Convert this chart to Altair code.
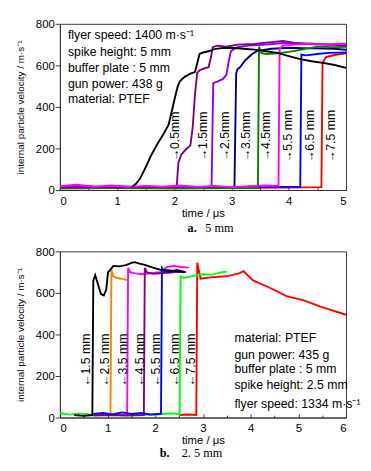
import altair as alt
import pandas as pd

# ---------------- Panel a (spike height 5 mm) ----------------
a_series = ["0.5", "1.5", "2.5", "3.5", "4.5", "5.5", "6.5", "7.5"]
a_colors = ["#000000", "#800080", "#8a00ff", "#000080", "#008000", "#ff00ff", "#0000ff", "#ff0000"]

a_t_05 = [1.25, 1.33, 1.40, 1.50, 1.60, 1.70, 1.80, 1.90, 1.96, 2.01, 2.06, 2.10, 2.18, 2.28, 2.36, 2.40, 2.44, 2.50, 2.60, 2.70, 2.82, 3.00, 3.20, 3.40, 3.60, 3.80, 4.00, 4.20, 4.40, 4.60, 4.80, 5.00]
a_v_05 = [12, 30, 55, 110, 170, 220, 265, 315, 385, 445, 500, 525, 545, 560, 568, 610, 655, 662, 668, 678, 683, 685, 680, 676, 668, 660, 645, 630, 620, 612, 602, 588]
a_t_15 = [0, 0.5, 1.0, 1.5, 2.04, 2.07, 2.12, 2.20, 2.28, 2.32, 2.36, 2.40, 2.45, 2.52, 2.60, 2.64, 2.67, 2.75, 2.90, 3.10, 3.40, 3.70, 3.90, 4.10, 4.40, 4.70, 5.00]
a_v_15 = [14, 18, 12, 16, 14, 130, 170, 195, 215, 300, 460, 565, 578, 585, 592, 640, 688, 695, 690, 700, 703, 712, 718, 708, 705, 700, 695]
a_t_25 = [0, 0.5, 1.0, 1.5, 2.0, 2.65, 2.68, 2.75, 2.85, 2.91, 2.95, 2.99, 3.10, 3.30, 3.60, 3.90, 4.20, 4.50, 4.80, 5.00]
a_v_25 = [16, 12, 18, 14, 15, 15, 515, 522, 535, 555, 620, 670, 688, 695, 700, 708, 705, 700, 702, 698]
a_t_35 = [0, 1.0, 2.0, 3.05, 3.08, 3.10, 3.15, 3.24, 3.36, 3.45, 3.70, 4.00, 4.40, 4.80, 5.00]
a_v_35 = [10, 12, 10, 12, 560, 580, 592, 625, 655, 670, 680, 685, 682, 680, 675]
a_t_45 = [0, 1.0, 2.0, 3.0, 3.46, 3.48, 3.52, 3.60, 3.80, 4.00, 4.20, 4.50, 4.80, 5.00]
a_v_45 = [8, 10, 8, 10, 10, 690, 660, 655, 658, 665, 675, 690, 688, 690]
a_t_55 = [0, 0.3, 0.6, 0.9, 1.2, 1.5, 1.8, 2.1, 2.4, 2.7, 3.0, 3.3, 3.6, 3.82, 3.84, 3.90, 4.10, 4.40, 4.70, 5.00]
a_v_55 = [18, 25, 15, 22, 14, 20, 16, 22, 15, 20, 14, 18, 22, 20, 680, 695, 700, 705, 700, 705]
a_t_65 = [0, 1.0, 2.0, 3.0, 3.9, 4.20, 4.22, 4.30, 4.50, 4.70, 5.00]
a_v_65 = [10, 12, 10, 12, 15, 15, 652, 648, 655, 660, 662]
a_t_75 = [0, 1.0, 2.0, 3.0, 4.0, 4.57, 4.59, 4.65, 4.80, 5.00]
a_v_75 = [8, 10, 8, 10, 12, 14, 612, 640, 650, 658]

# drawing order (first drawn first)
a_draw = [("7.5", a_t_75, a_v_75), ("6.5", a_t_65, a_v_65), ("3.5", a_t_35, a_v_35),
          ("4.5", a_t_45, a_v_45), ("2.5", a_t_25, a_v_25), ("1.5", a_t_15, a_v_15),
          ("5.5", a_t_55, a_v_55), ("0.5", a_t_05, a_v_05)]

a_labels = ["\u21920.5mm", "\u21921.5mm", "\u21922.5mm", "\u21923.5mm", "\u21924.5mm",
            "\u21925.5 mm", "\u21926.5 mm", "\u21927.5 mm"]
a_label_x = [2.02, 2.51, 2.89, 3.26, 3.61, 3.99, 4.38, 4.75]
a_label_y = [258, 258, 258, 258, 258, 258, 258, 258]

a_notes = ["flyer speed: 1400 m\u00b7s\u207b\u00b9", "spike height: 5 mm", "buffer plate : 5 mm",
           "gun power: 438 g", "material: PTEF"]
a_note_x = [0.14, 0.14, 0.14, 0.14, 0.14]
a_note_y = [744, 662, 586, 510, 436]

# ---------------- Panel b (spike height 2.5 mm) ----------------
b_series = ["1.5", "2.5", "3.5", "4.5", "5.5", "6.5", "7.5"]
b_colors = ["#000000", "#ff8000", "#ff00ff", "#800080", "#0000ff", "#00ff00", "#ff0000"]

b_t_15 = [0.30, 0.50, 0.68, 0.70, 0.74, 0.80, 0.86, 0.92, 0.97, 1.01, 1.06, 1.12, 1.25, 1.40, 1.50, 1.57, 1.65, 1.78, 1.95, 2.10, 2.30, 2.45, 2.62]
b_v_15 = [12, 8, 12, 660, 685, 640, 595, 588, 615, 700, 712, 730, 728, 735, 745, 748, 742, 735, 722, 712, 708, 705, 700]
b_t_25 = [0.70, 1.00, 1.06, 1.08, 1.12, 1.20, 1.30, 1.42]
b_v_25 = [14, 12, 12, 712, 680, 672, 668, 662]
b_t_35 = [0.70, 1.00, 1.41, 1.43, 1.47, 1.55, 1.70, 1.90, 2.10, 2.25, 2.40, 2.55, 2.70]
b_v_35 = [14, 14, 14, 720, 700, 695, 690, 695, 700, 725, 730, 725, 722]
b_t_45 = [0.70, 1.00, 1.40, 1.76, 1.78, 1.82, 1.95, 2.10, 2.30, 2.50, 2.65]
b_v_45 = [10, 12, 10, 12, 720, 700, 692, 695, 698, 702, 700]
b_t_55 = [0.70, 0.90, 1.10, 1.30, 1.50, 1.70, 1.90, 2.12, 2.14, 2.18, 2.30, 2.45, 2.60]
b_v_55 = [18, 22, 15, 25, 18, 22, 15, 18, 720, 705, 700, 710, 702]
b_t_65 = [0, 0.2, 0.4, 0.6, 1.0, 1.5, 2.0, 2.2, 2.4, 2.51, 2.53, 2.60, 2.80, 3.00, 3.20, 3.40, 3.50]
b_v_65 = [22, 14, 20, 15, 12, 12, 14, 18, 20, 15, 680, 672, 682, 690, 688, 700, 702]
b_t_75 = [2.50, 2.70, 2.86, 2.88, 2.95, 3.15, 3.50, 3.77, 3.85, 4.05, 4.40, 4.75, 5.10, 5.45, 5.66, 6.00]
b_v_75 = [12, 15, 12, 745, 668, 675, 680, 695, 705, 660, 625, 585, 565, 535, 520, 495]

b_draw = [("7.5", b_t_75, b_v_75), ("6.5", b_t_65, b_v_65), ("2.5", b_t_25, b_v_25),
          ("3.5", b_t_35, b_v_35), ("4.5", b_t_45, b_v_45), ("5.5", b_t_55, b_v_55),
          ("1.5", b_t_15, b_v_15)]

b_labels = ["\u21901.5 mm", "\u21902.5 mm", "\u21903.5 mm", "\u21904.5 mm", "\u21905.5 mm",
            "\u21906.5 mm", "\u21907.5 mm"]
b_label_x = [0.55, 0.95, 1.33, 1.68, 2.02, 2.42, 2.76]
b_label_y = [276, 276, 276, 276, 276, 276, 276]

b_notes = ["material: PTEF", "gun power: 435 g", "buffer plate : 5 mm", "spike height: 2.5 mm",
           "flyer speed: 1334 m\u00b7s\u207b\u00b9"]
b_note_x = [3.66, 3.66, 3.66, 3.66, 3.66]
b_note_y = [384, 301, 232, 154, 63]

FONT = "Liberation Sans Narrow, Arial Narrow, Liberation Sans"
SERIF = "Liberation Serif"
W, H = 303, 176
YTITLE = "internal particle velocity / m\u00b7s\u207b\u00b9"


def lines_df(draw):
    rows = []
    for s, ts, vs in draw:
        for i, (t, v) in enumerate(zip(ts, vs)):
            rows.append({"series": s, "t": t, "v": v, "i": i})
    return pd.DataFrame(rows)


def panel(draw, series, colors, xmax, labels, lx, ly, notes, nx, ny, cap_a, cap_b, cap_ax, cap_bx, cap_y):
    xs = alt.Scale(domain=[0, xmax], nice=False)
    ys = alt.Scale(domain=[0, 800], nice=False)
    half = [k * 0.5 for k in range(int(xmax * 2) + 1)]
    # bottom axis: labels only
    xaxis = alt.Axis(values=list(range(0, xmax + 1)), labelExpr="'' + datum.value",
                     ticks=False, tickSize=0, title="time / \u03bcs", grid=False,
                     titlePadding=2, labelPadding=6)
    # inward ticks drawn by a top-oriented axis moved down onto the bottom edge
    xticks = alt.Axis(orient="top", offset=-H, values=half, labels=False, domain=False,
                      title=None, grid=False,
                      tickSize={"condition": {"test": "datum.value % 1 === 0", "value": 4}, "value": 2.5})
    yaxis = alt.Axis(values=list(range(0, 801, 100)),
                     labelExpr="datum.value % 200 === 0 ? datum.label : ''",
                     tickSize={"condition": {"test": "datum.value % 200 === 0", "value": 5}, "value": 3},
                     title=YTITLE, grid=False, titlePadding=11, labelPadding=1,
                     titleFontSize=10.5)
    df = lines_df(draw)
    lines = alt.Chart(df).mark_line(strokeWidth=2, clip=True).encode(
        x=alt.X("t:Q", scale=xs, axis=xaxis),
        y=alt.Y("v:Q", scale=ys, axis=yaxis),
        color=alt.Color("series:N", scale=alt.Scale(domain=series, range=colors), legend=None),
        order="i:Q",
    )
    lab = alt.Chart(pd.DataFrame({"x": lx, "y": ly, "txt": labels})).mark_text(
        angle=270, align="center", baseline="middle", font=FONT, fontSize=13, color="black"
    ).encode(x=alt.X("x:Q", scale=xs, axis=xticks), y=alt.Y("y:Q", scale=ys), text="txt:N")
    nt = alt.Chart(pd.DataFrame({"x": nx, "y": ny, "txt": notes})).mark_text(
        align="left", baseline="middle", font=FONT, fontSize=13, color="black"
    ).encode(x=alt.X("x:Q", scale=xs, axis=None), y=alt.Y("y:Q", scale=ys), text="txt:N")
    cap1 = alt.Chart(pd.DataFrame({"txt": [cap_a]})).mark_text(
        align="center", baseline="middle", font=SERIF, fontSize=13, fontWeight="bold", color="black"
    ).encode(x=alt.value(cap_ax), y=alt.value(cap_y), text="txt:N")
    cap2 = alt.Chart(pd.DataFrame({"txt": [cap_b]})).mark_text(
        align="left", baseline="middle", font=SERIF, fontSize=13, color="black"
    ).encode(x=alt.value(cap_bx), y=alt.value(cap_y), text="txt:N")
    return alt.layer(lines, lab, nt, cap1, cap2).resolve_axis(x="independent").properties(width=W, height=H)


pa = panel(a_draw, a_series, a_colors, 5, a_labels, a_label_x, a_label_y, a_notes, a_note_x, a_note_y,
           "a.", "5  mm", 140, 154, H + 40)
pb = panel(b_draw, b_series, b_colors, 6, b_labels, b_label_x, b_label_y, b_notes, b_note_x, b_note_y,
           "b.", "2. 5  mm", 111, 129, H + 38)

chart = alt.vconcat(pa, pb, spacing=10).resolve_scale(color="independent").properties(
    padding={"left": 7, "top": -4, "right": 2, "bottom": 0}
).configure_view(stroke="#333333", strokeWidth=1).configure_axis(
    domainColor="#333333", tickColor="#333333", labelFont=FONT, titleFont=FONT,
    labelFontSize=12, titleFontSize=12, titleFontWeight="normal", labelColor="black", titleColor="black"
)

chart.save("out.html", embed_options={"renderer": "svg", "actions": False})
